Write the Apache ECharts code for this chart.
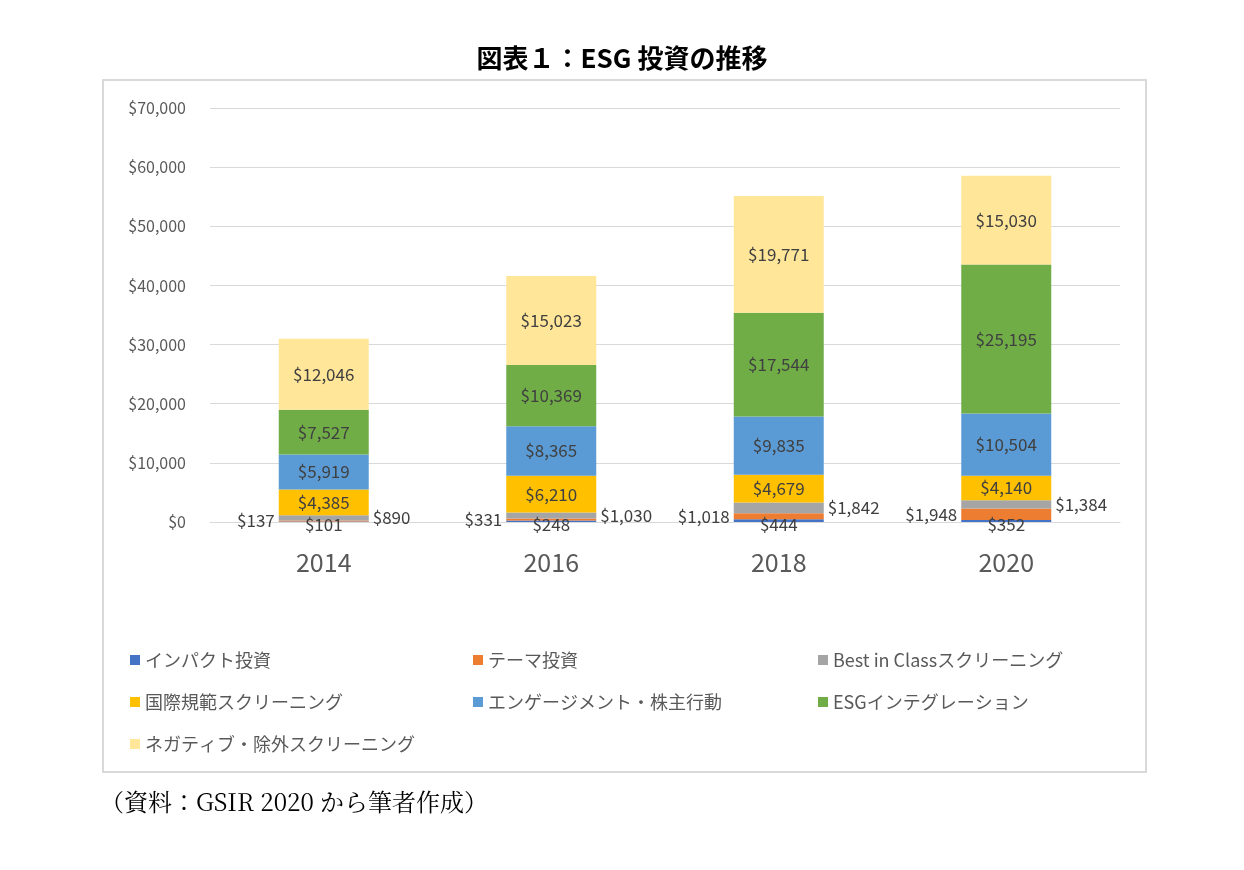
<!DOCTYPE html>
<html><head><meta charset="utf-8">
<script src="https://cdn.jsdelivr.net/npm/echarts@6/dist/echarts.min.js"></script>
<style>body{margin:0;background:#fff}#c{width:1244px;height:870px}</style></head>
<body><div id="c"></div>
<script>
const categories = ['2014','2016','2018','2020'];
const impact = [101, 248, 444, 352];
const theme = [137, 331, 1018, 1948];
const bestInClass = [890, 1030, 1842, 1384];
const norms = [4385, 6210, 4679, 4140];
const engagement = [5919, 8365, 9835, 10504];
const esgIntegration = [7527, 10369, 17544, 25195];
const negative = [12046, 15023, 19771, 15030];
const names = ['インパクト投資','テーマ投資','Best in Classスクリーニング','国際規範スクリーニング','エンゲージメント・株主行動','ESGインテグレーション','ネガティブ・除外スクリーニング'];
const colors = ['#4472C4','#ED7D31','#A5A5A5','#FFC000','#5B9BD5','#70AD47','#FFE699'];
const dataSets = [impact, theme, bestInClass, norms, engagement, esgIntegration, negative];
const labelPos = ['bottom','left','right','inside','inside','inside','inside'];
const fmt = v => '$' + Number(v).toLocaleString('en-US');
const font = '"Noto Sans CJK JP", "Noto Sans", sans-serif';
const series = dataSets.map((d,i)=>({
  name: names[i], type:'bar', stack:'s', barWidth:90, data:d,
  itemStyle:{color:colors[i]},
  label:{show:true, position:labelPos[i], distance:i===0?-6:4, formatter:p=>fmt(p.value), color:'#404040', fontSize:17, fontFamily:font}
}));
const legendPos = [[125,646],[468,646],[813,646],[125,688],[468,688],[813,688],[125,730]];
const legends = names.map((n,i)=>({data:[n], left:legendPos[i][0], top:legendPos[i][1], itemWidth:10, itemHeight:10, icon:'rect', textStyle:{fontSize:18, color:'#595959', fontFamily:font}}));
const chart = echarts.init(document.getElementById('c'));
chart.setOption({
  animation:false,
  title:{text:'図表１：ESG 投資の推移', left:'center', top:40, textStyle:{fontSize:26, fontWeight:'bold', color:'#000', fontFamily:font}},
  graphic:[
    {type:'rect', shape:{x:103,y:80,width:1043,height:692}, style:{fill:'none', stroke:'#d9d9d9', lineWidth:2}},
    {type:'text', left:100, top:790, style:{text:'（資料：GSIR 2020 から筆者作成）', fontSize:24, fill:'#000', fontFamily:'"Noto Serif CJK JP", "DejaVu Serif", serif'}}
  ],
  legend:legends,
  grid:{left:210, right:124, top:108, bottom:348},
  xAxis:{type:'category', data:categories, axisTick:{show:false}, axisLine:{lineStyle:{color:'#d9d9d9'}}, axisLabel:{fontSize:25, color:'#595959', margin:28, fontFamily:font}},
  yAxis:{type:'value', min:0, max:70000, interval:10000, axisLabel:{formatter:fmt, fontSize:16, color:'#595959', margin:24, fontFamily:font}, splitLine:{lineStyle:{color:'#d9d9d9'}}},
  series
});
</script></body></html>
